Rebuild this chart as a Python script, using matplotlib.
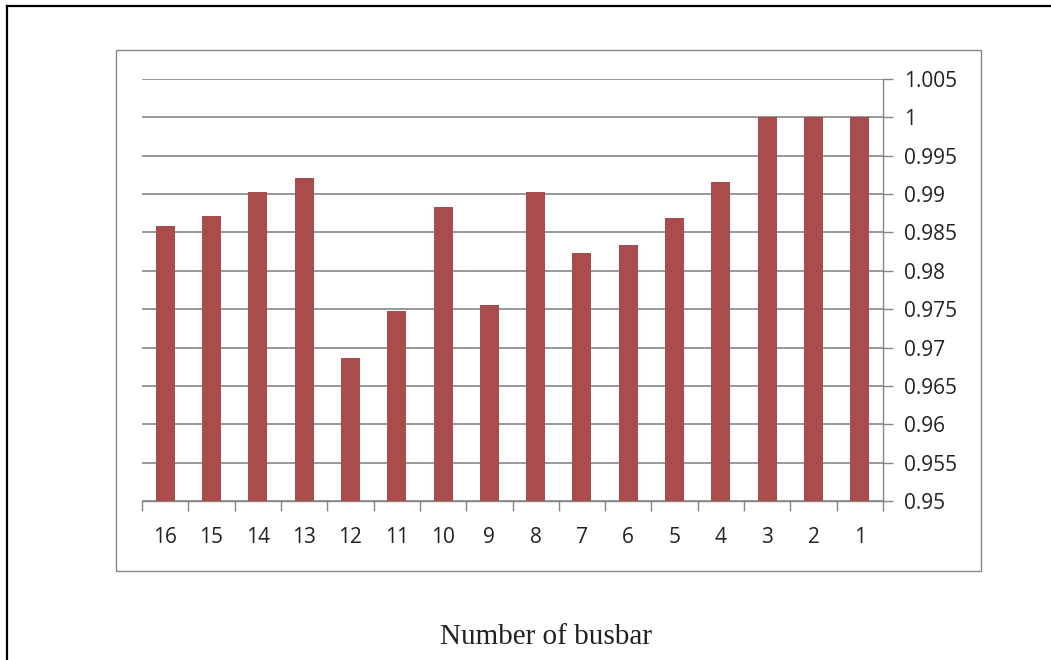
import matplotlib.pyplot as plt
from matplotlib.ticker import FuncFormatter, FixedLocator, MultipleLocator
from matplotlib.patches import Rectangle
from matplotlib.lines import Line2D
import numpy as np

# busbar numbers as they appear along the axis, and the per-unit voltage of each
busbars = ['16', '15', '14', '13', '12', '11', '10', '9',
           '8', '7', '6', '5', '4', '3', '2', '1']
voltage = [0.9858, 0.9872, 0.9903, 0.9921, 0.9686, 0.9747, 0.9883, 0.9755,
           0.9903, 0.9823, 0.9834, 0.9869, 0.9916, 1.0, 1.0, 1.0]

y_min, y_max, y_step = 0.95, 1.005, 0.005

bar_color = '#A94C4B'
line_gray = '#868686'
text_color = '#222222'


def volt_formatter(v, pos):
    return '{:g}'.format(round(v, 3))


fig = plt.figure(figsize=(10.51, 6.6), dpi=100)
fig.patch.set_facecolor('white')

# frame around the whole chart (only the left and top edges fall inside)
fig.add_artist(Line2D([7 / 1051, 7 / 1051], [0, 1 - 6 / 660],
                      transform=fig.transFigure, color='black', lw=1.6))
fig.add_artist(Line2D([7 / 1051, 1], [1 - 6 / 660, 1 - 6 / 660],
                      transform=fig.transFigure, color='black', lw=1.6))

# inner chart-area box
fig.add_artist(Rectangle((116 / 1051, 89 / 660), 865 / 1051, 521 / 660,
                         transform=fig.transFigure, fill=False,
                         edgecolor=line_gray, lw=1.0))

ax = fig.add_axes([142 / 1051, 159 / 660, 741 / 1051, 422 / 660])

x = np.arange(len(busbars))
ax.bar(x, voltage, width=0.41, color=bar_color, zorder=3)

ax.set_xlim(-0.5, len(busbars) - 0.5)
ax.set_ylim(y_min, y_max)

# y axis on the right side
ax.yaxis.tick_right()
ax.yaxis.set_major_locator(MultipleLocator(y_step))
ax.yaxis.set_major_formatter(FuncFormatter(volt_formatter))
ax.tick_params(axis='y', which='major', direction='out', length=7.2, width=1.0,
               color=line_gray, pad=8, labelsize=15, labelcolor=text_color)

# category labels at bar centres, tick marks between categories
ax.xaxis.set_major_locator(FixedLocator(x))
ax.set_xticklabels(busbars)
ax.xaxis.set_minor_locator(FixedLocator(np.arange(len(busbars) + 1) - 0.5))
ax.tick_params(axis='x', which='major', length=0, pad=19,
               labelsize=15, labelcolor=text_color)
ax.tick_params(axis='x', which='minor', direction='out', length=7.2, width=1.0,
               color=line_gray)

for lbl in ax.get_xticklabels() + ax.get_yticklabels():
    lbl.set_family(['Open Sans', 'DejaVu Sans'])

ax.grid(axis='y', color=line_gray, lw=1.2, zorder=0)
ax.set_axisbelow(True)

for side in ['top', 'left']:
    ax.spines[side].set_visible(False)
for side in ['bottom', 'right']:
    ax.spines[side].set_color(line_gray)
    ax.spines[side].set_linewidth(1.0)

fig.text(546 / 1051, 1 - 637 / 660, 'Number of busbar', ha='center', va='center',
         family=['Liberation Serif', 'DejaVu Serif'], fontsize=21, color=text_color)

fig.savefig('out.png', dpi=100)
